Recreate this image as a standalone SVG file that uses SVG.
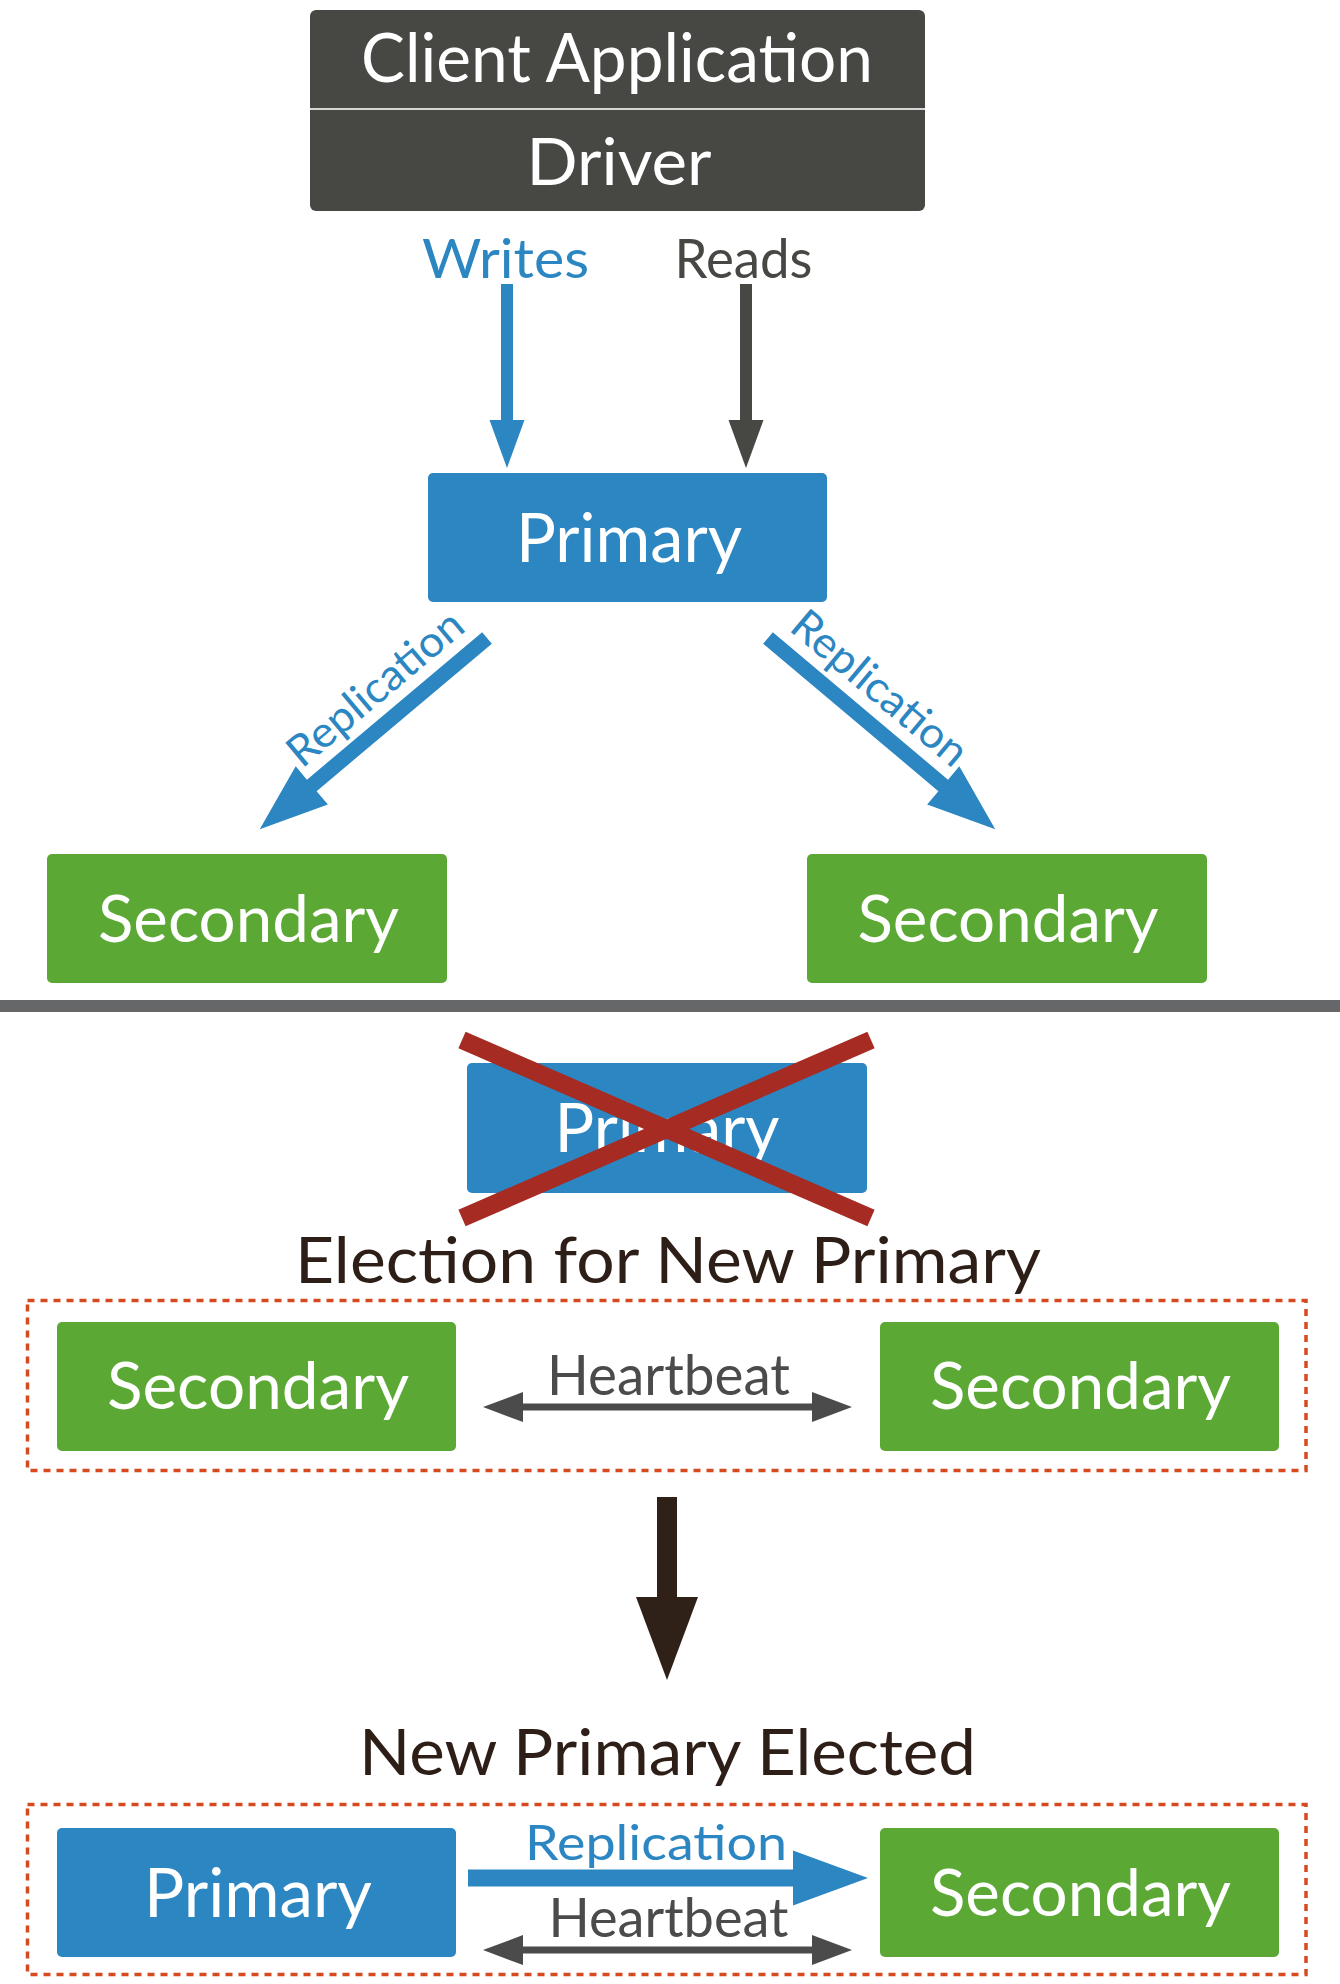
<svg xmlns="http://www.w3.org/2000/svg" width="1340" height="1984" viewBox="0 0 1340 1984">
<style>
text { font-family: Lato, "Liberation Sans", "DejaVu Sans", sans-serif; text-anchor: middle; }
.wt { fill: #ffffff; }
.blue { fill: #2b86c2; }
.green { fill: #5ba834; }
.dark { fill: #474744; }
.title { fill: #2d1f17; }
.hb { fill: #4b4b4b; }
.dash { fill: none; stroke: #d64a1f; stroke-width: 3.5; stroke-dasharray: 7 6; }
.cross { stroke: #a62b22; stroke-width: 18; stroke-linecap: butt; }
</style>
<defs>
<path id="diag" d="M0,-7.5 L229,-7.5 L229,-25 L297,0 L229,25 L229,7.5 L0,7.5 Z"/>
</defs>
<rect x="0" y="0" width="1340" height="1984" fill="#ffffff"/>

<g id="client-driver">
<rect x="310" y="10" width="615" height="201" rx="6" class="dark"/>
<line x1="310" y1="109" x2="925" y2="109" stroke="#d6d6d4" stroke-width="2"/>
<text x="617" y="82" font-size="68" class="wt" textLength="512" lengthAdjust="spacingAndGlyphs">Client Application</text>
<text x="619" y="185" font-size="66" class="wt" textLength="185" lengthAdjust="spacingAndGlyphs">Driver</text>
</g>

<g id="labels-top">
<text x="505.5" y="278" font-size="54" class="blue" textLength="167" lengthAdjust="spacingAndGlyphs">Writes</text>
<text x="743.5" y="278" font-size="54" class="dark" textLength="138" lengthAdjust="spacingAndGlyphs">Reads</text>
</g>

<g id="primary">
<rect x="428" y="473" width="399" height="129" rx="5" class="blue"/>
<text x="629" y="562" font-size="67" class="wt" textLength="226" lengthAdjust="spacingAndGlyphs">Primary</text>
</g>

<g id="secondary-left">
<rect x="47" y="854" width="400" height="129" rx="5" class="green"/>
<text x="248.5" y="942" font-size="66" class="wt" textLength="301" lengthAdjust="spacingAndGlyphs">Secondary</text>
</g>

<g id="secondary-right">
<rect x="807" y="854" width="400" height="129" rx="5" class="green"/>
<text x="1008" y="942" font-size="66" class="wt" textLength="301" lengthAdjust="spacingAndGlyphs">Secondary</text>
</g>

<g id="divider">
<rect x="0" y="1000" width="1340" height="12" fill="#666768"/>
</g>

<g id="failed-primary">
<rect x="467" y="1063" width="400" height="130" rx="5" class="blue"/>
<text x="667" y="1152" font-size="67" class="wt" textLength="225" lengthAdjust="spacingAndGlyphs">Primary</text>
<line x1="462" y1="1040" x2="871" y2="1218" class="cross"/>
<line x1="462" y1="1218" x2="871" y2="1040" class="cross"/>
</g>

<g id="election-title">
<text x="668" y="1283" font-size="64" class="title" textLength="746" lengthAdjust="spacingAndGlyphs">Election for New Primary</text>
</g>

<g id="election-group">
<rect x="27.5" y="1300.5" width="1278.5" height="170" class="dash"/>
</g>

<g id="election-secondary-left">
<rect x="57" y="1322" width="399" height="129" rx="5" class="green"/>
<text x="258" y="1409" font-size="66" class="wt" textLength="302" lengthAdjust="spacingAndGlyphs">Secondary</text>
</g>

<g id="election-secondary-right">
<rect x="880" y="1322" width="399" height="129" rx="5" class="green"/>
<text x="1080.5" y="1409" font-size="66" class="wt" textLength="301" lengthAdjust="spacingAndGlyphs">Secondary</text>
</g>

<g id="elected-title">
<text x="667.5" y="1775" font-size="63" class="title" textLength="617" lengthAdjust="spacingAndGlyphs">New Primary Elected</text>
</g>

<g id="elected-group">
<rect x="27.5" y="1804.5" width="1278.5" height="170" class="dash"/>
</g>

<g id="new-primary">
<rect x="57" y="1828" width="399" height="129" rx="5" class="blue"/>
<text x="258" y="1917" font-size="67" class="wt" textLength="228" lengthAdjust="spacingAndGlyphs">Primary</text>
</g>

<g id="new-secondary">
<rect x="880" y="1828" width="399" height="129" rx="5" class="green"/>
<text x="1080.5" y="1916" font-size="66" class="wt" textLength="301" lengthAdjust="spacingAndGlyphs">Secondary</text>
</g>

<g id="connectors">
<!-- Writes -->
<rect x="501" y="284" width="12" height="137" class="blue"/>
<polygon points="489.5,420 524.5,420 507,468" class="blue"/>
<!-- Reads -->
<rect x="740" y="284" width="12" height="137" class="dark"/>
<polygon points="728.5,420 763.5,420 746,468" class="dark"/>
<!-- Replication diagonals -->
<use href="#diag" class="blue" transform="translate(487,638) rotate(139.92)"/>
<use href="#diag" class="blue" transform="translate(768,638) rotate(40.08)"/>
<text x="384.6" y="699.4" font-size="43" class="blue" textLength="216" lengthAdjust="spacingAndGlyphs" transform="rotate(-40.08 384.6 699.4)">Replication</text>
<text x="870.4" y="699.4" font-size="43" class="blue" textLength="216" lengthAdjust="spacingAndGlyphs" transform="rotate(40.08 870.4 699.4)">Replication</text>
<!-- Heartbeat (election) -->
<rect x="520" y="1403.5" width="295" height="7" class="hb"/>
<polygon points="483,1407 523,1392 523,1422" class="hb"/>
<polygon points="852,1407 812,1392 812,1422" class="hb"/>
<text x="668.5" y="1395" font-size="56" class="hb" textLength="243" lengthAdjust="spacingAndGlyphs">Heartbeat</text>
<!-- Big transition arrow -->
<rect x="657" y="1497" width="20" height="101" fill="#2f2118"/>
<polygon points="636,1597 698,1597 667,1680" fill="#2f2118"/>
<!-- Replication (bottom) -->
<path d="M468,1869.5 L793,1869.5 L793,1850.5 L868,1878 L793,1905.5 L793,1886.5 L468,1886.5 Z" class="blue"/>
<text x="656" y="1860" font-size="48" class="blue" textLength="262" lengthAdjust="spacingAndGlyphs">Replication</text>
<!-- Heartbeat (bottom) -->
<rect x="520" y="1946.5" width="295" height="7" class="hb"/>
<polygon points="483,1950 523,1935 523,1965" class="hb"/>
<polygon points="852,1950 812,1935 812,1965" class="hb"/>
<text x="668.5" y="1937" font-size="54" class="hb" textLength="240" lengthAdjust="spacingAndGlyphs">Heartbeat</text>
</g>
</svg>
